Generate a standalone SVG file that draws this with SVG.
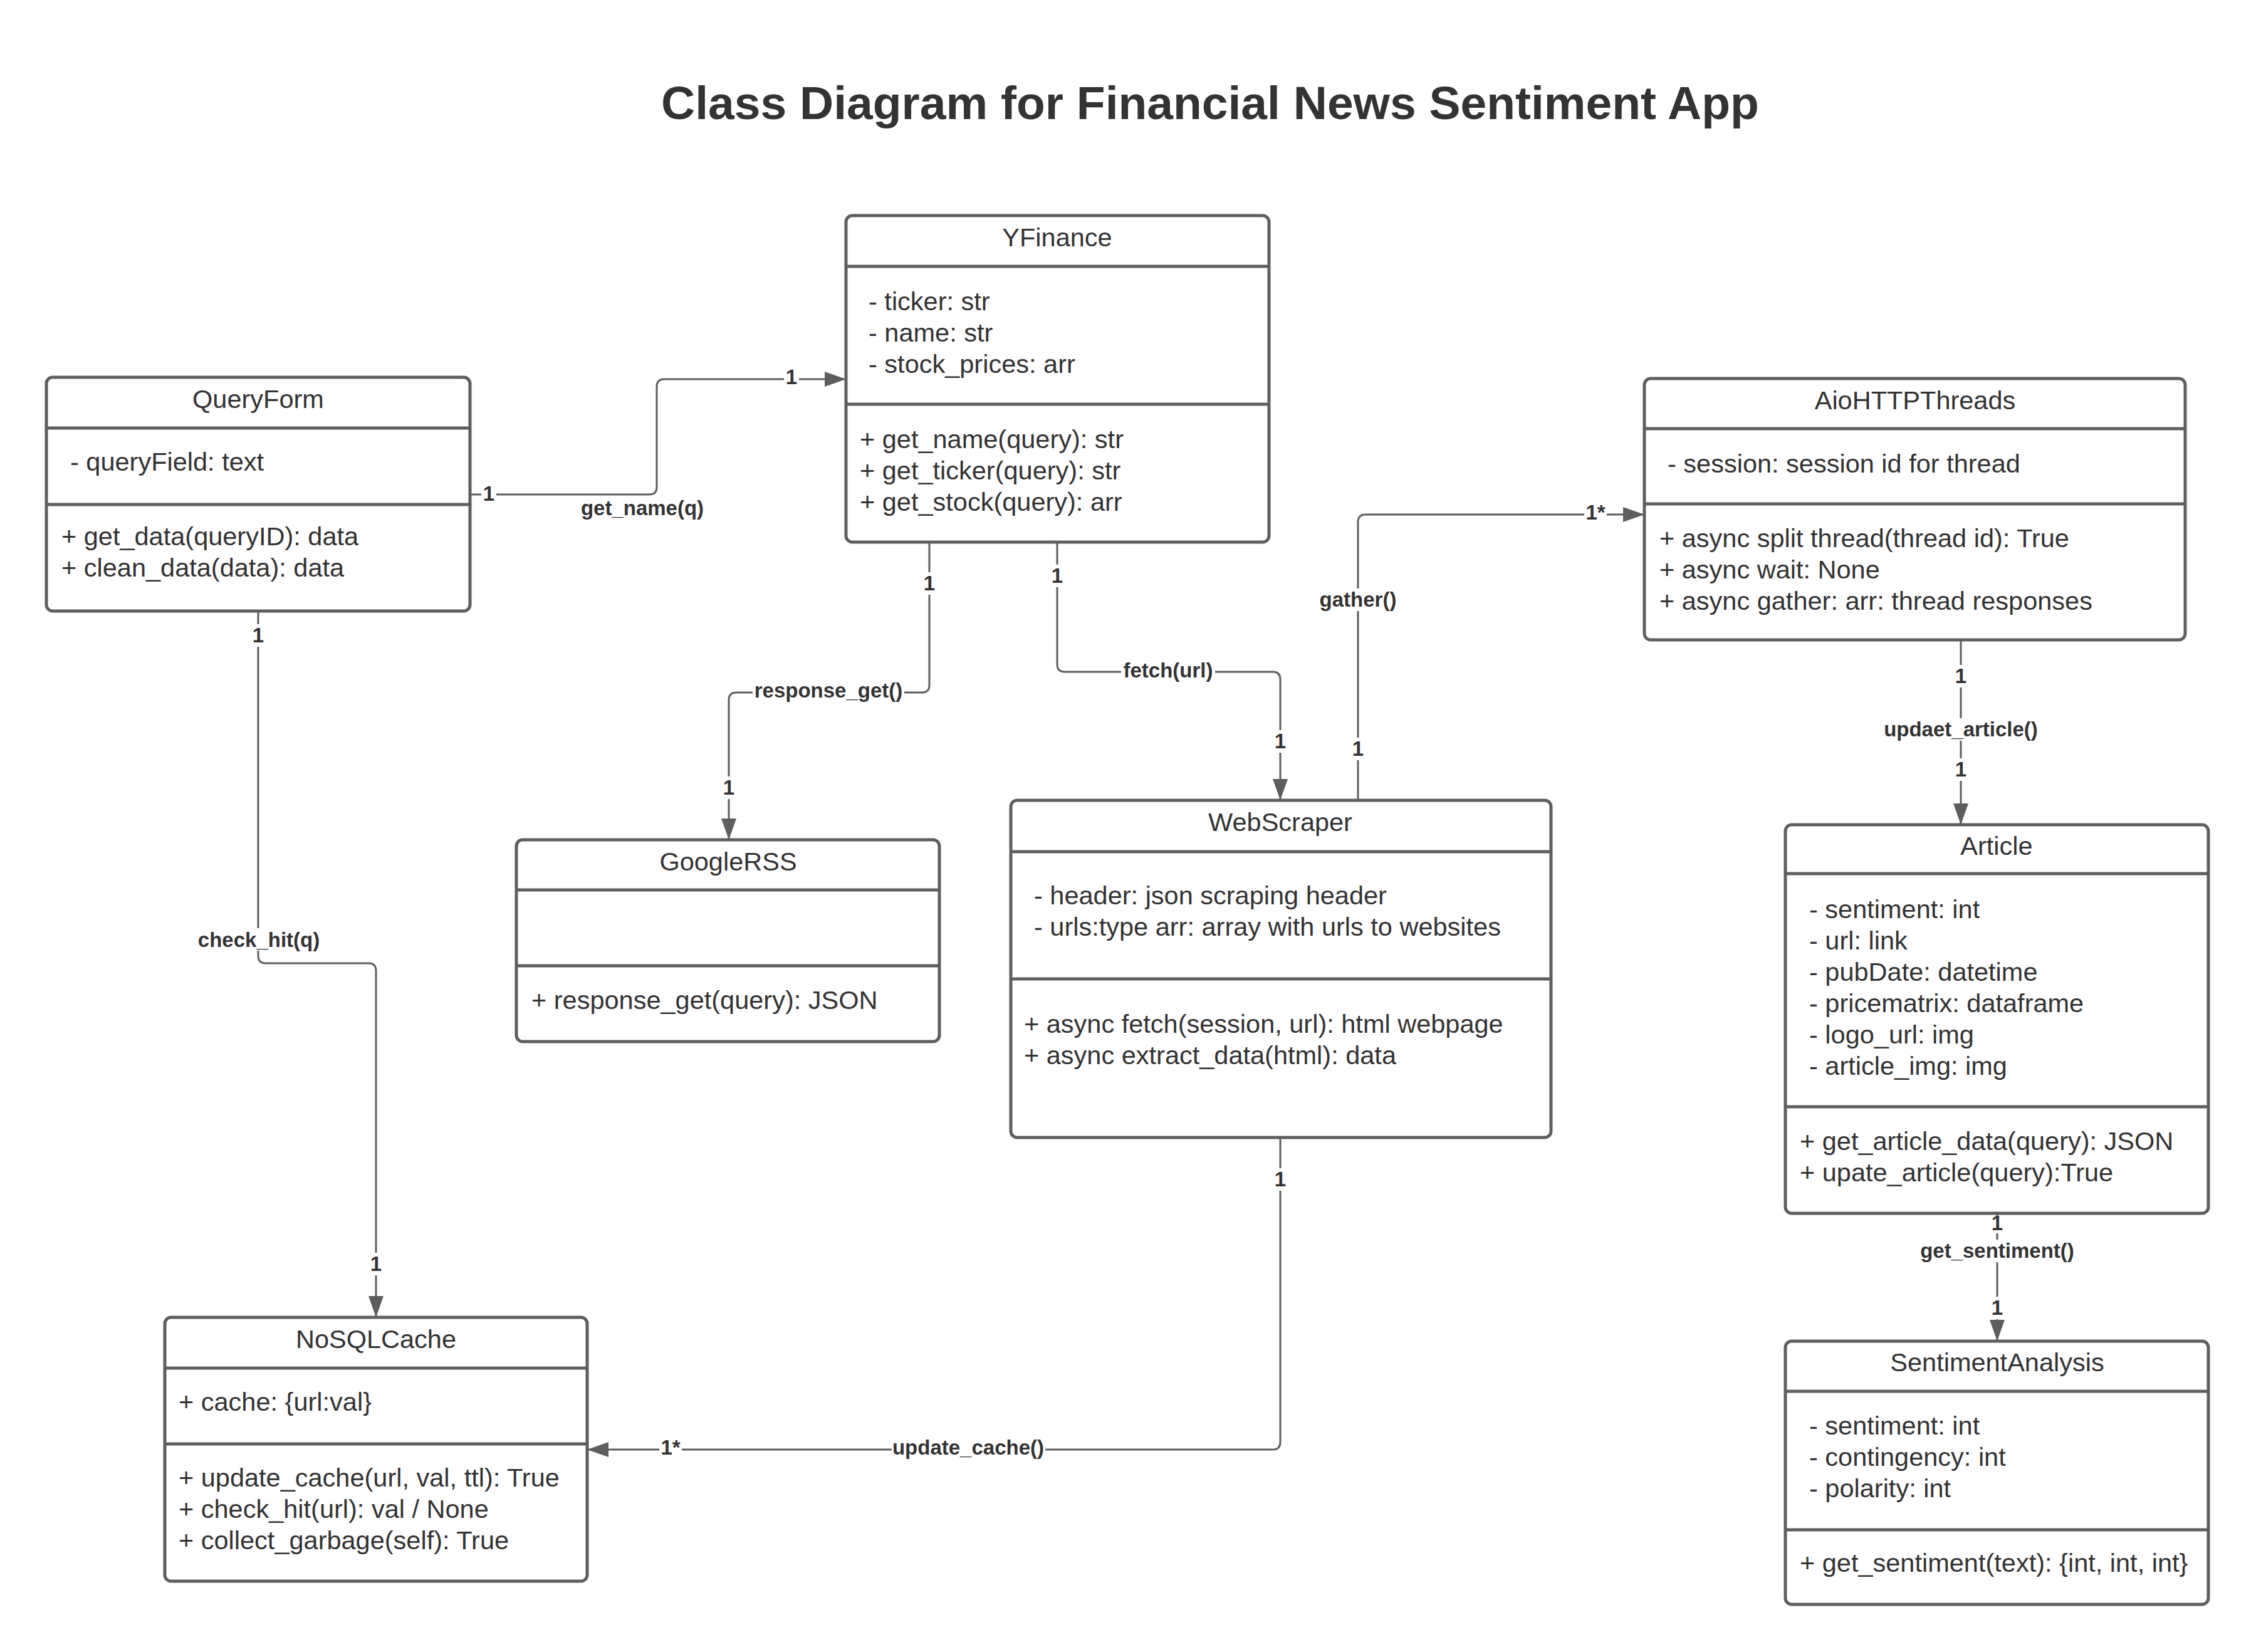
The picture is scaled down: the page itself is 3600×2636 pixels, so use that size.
<svg xmlns="http://www.w3.org/2000/svg" width="3600" height="2636" viewBox="0 0 3600 2636">
<style>
.box{fill:#fff;stroke:#5e5e5e;stroke-width:5}
.div{stroke:#5e5e5e;stroke-width:5}
.t{font-family:"Liberation Sans",Arial,sans-serif;font-size:41.5px;fill:#333}
.h{text-anchor:middle}
.c{fill:none;stroke:#5e5e5e;stroke-width:3}
.lb{font-family:"Liberation Sans",Arial,sans-serif;font-size:33px;font-weight:bold;fill:#333;text-anchor:middle}
.bg{fill:#fff}
.title{font-family:"Liberation Sans",Arial,sans-serif;font-size:75px;font-weight:bold;fill:#333;text-anchor:middle}
</style>
<defs>
<marker id="arr" markerUnits="userSpaceOnUse" markerWidth="36" markerHeight="26" viewBox="0 0 36 26" refX="34" refY="13" orient="auto">
<path d="M0,1 L34,13 L0,25 Z" fill="#5e5e5e"/>
</marker>
</defs>
<rect width="3600" height="2636" fill="#fff"/>
<text class="title" x="1931" y="190">Class Diagram for Financial News Sentiment App</text>

<g id="connectors">
<path class="c" d="M750 789 H1036 Q1048 789 1048 777 V617 Q1048 605 1060 605 H1350" marker-end="url(#arr)"/>
<path class="c" d="M1483 865 V1093 Q1483 1105 1471 1105 H1175 Q1163 1105 1163 1117 V1340" marker-end="url(#arr)"/>
<path class="c" d="M1687 865 V1060 Q1687 1072 1699 1072 H2031 Q2043 1072 2043 1084 V1277" marker-end="url(#arr)"/>
<path class="c" d="M2167 1277 V833 Q2167 821 2179 821 H2624" marker-end="url(#arr)"/>
<path class="c" d="M412 975 V1525 Q412 1537 424 1537 H588 Q600 1537 600 1549 V2102" marker-end="url(#arr)"/>
<path class="c" d="M2043 1815 V2301 Q2043 2313 2031 2313 H937" marker-end="url(#arr)"/>
<path class="c" d="M3129 1021 V1316" marker-end="url(#arr)"/>
<path class="c" d="M3187 1936 V2140" marker-end="url(#arr)"/>

<rect class="bg" x="768" y="771" width="24" height="36"/><text class="lb" x="780" y="799">1</text>
<text class="lb" x="1025" y="822">get_name(q)</text>
<rect class="bg" x="1251" y="585" width="24" height="36"/><text class="lb" x="1263" y="613">1</text>

<rect class="bg" x="1471" y="913" width="24" height="36"/><text class="lb" x="1483" y="942">1</text>
<rect class="bg" x="1201" y="1087" width="242" height="36"/><text class="lb" x="1322" y="1113">response_get()</text>
<rect class="bg" x="1151" y="1239" width="24" height="36"/><text class="lb" x="1163" y="1268">1</text>

<rect class="bg" x="1675" y="901" width="24" height="36"/><text class="lb" x="1687" y="930">1</text>
<rect class="bg" x="1789" y="1054" width="150" height="36"/><text class="lb" x="1864" y="1081">fetch(url)</text>
<rect class="bg" x="2031" y="1165" width="24" height="36"/><text class="lb" x="2043" y="1194">1</text>

<rect class="bg" x="2155" y="1177" width="24" height="36"/><text class="lb" x="2167" y="1206">1</text>
<rect class="bg" x="2102" y="939" width="130" height="36"/><text class="lb" x="2167" y="968">gather()</text>
<rect class="bg" x="2528" y="803" width="36" height="36"/><text class="lb" x="2546" y="829">1*</text>

<rect class="bg" x="400" y="996" width="24" height="36"/><text class="lb" x="412" y="1025">1</text>
<rect class="bg" x="313" y="1481" width="200" height="36"/><text class="lb" x="413" y="1511">check_hit(q)</text>
<rect class="bg" x="588" y="1999" width="24" height="36"/><text class="lb" x="600" y="2028">1</text>

<rect class="bg" x="2031" y="1864" width="24" height="36"/><text class="lb" x="2043" y="1893">1</text>
<rect class="bg" x="1423" y="2295" width="245" height="36"/><text class="lb" x="1545" y="2321">update_cache()</text>
<rect class="bg" x="1052" y="2295" width="36" height="36"/><text class="lb" x="1070" y="2321">1*</text>

<rect class="bg" x="3117" y="1061" width="24" height="36"/><text class="lb" x="3129" y="1090">1</text>
<rect class="bg" x="3003" y="1146" width="252" height="36"/><text class="lb" x="3129" y="1175">updaet_article()</text>
<rect class="bg" x="3117" y="1210" width="24" height="36"/><text class="lb" x="3129" y="1239">1</text>

<rect class="bg" x="3175" y="1940" width="24" height="28"/><text class="lb" x="3187" y="1963">1</text>
<rect class="bg" x="3061" y="1978" width="252" height="36"/><text class="lb" x="3187" y="2007">get_sentiment()</text>
<rect class="bg" x="3175" y="2069" width="24" height="36"/><text class="lb" x="3187" y="2098">1</text>
</g>

<g id="QueryForm">
<rect class="box" x="74" y="602" width="676" height="373" rx="10"/>
<line class="div" x1="74" y1="683" x2="750" y2="683"/>
<line class="div" x1="74" y1="805" x2="750" y2="805"/>
<text class="t h" x="412" y="651">QueryForm</text>
<text class="t" x="112" y="751">- queryField: text</text>
<text class="t" x="98" y="870">+ get_data(queryID): data</text>
<text class="t" x="98" y="920">+ clean_data(data): data</text>
</g>

<g id="YFinance">
<rect class="box" x="1350" y="344" width="675" height="521" rx="10"/>
<line class="div" x1="1350" y1="425" x2="2025" y2="425"/>
<line class="div" x1="1350" y1="645" x2="2025" y2="645"/>
<text class="t h" x="1687" y="393">YFinance</text>
<text class="t" x="1386" y="495">- ticker: str</text>
<text class="t" x="1386" y="545">- name: str</text>
<text class="t" x="1386" y="595">- stock_prices: arr</text>
<text class="t" x="1372" y="715">+ get_name(query): str</text>
<text class="t" x="1372" y="765">+ get_ticker(query): str</text>
<text class="t" x="1372" y="815">+ get_stock(query): arr</text>
</g>

<g id="AioHTTPThreads">
<rect class="box" x="2624" y="604" width="863" height="417" rx="10"/>
<line class="div" x1="2624" y1="684" x2="3487" y2="684"/>
<line class="div" x1="2624" y1="804" x2="3487" y2="804"/>
<text class="t h" x="3056" y="653">AioHTTPThreads</text>
<text class="t" x="2661" y="754">- session: session id for thread</text>
<text class="t" x="2648" y="873">+ async split thread(thread id): True</text>
<text class="t" x="2648" y="923">+ async wait: None</text>
<text class="t" x="2648" y="973">+ async gather: arr: thread responses</text>
</g>

<g id="GoogleRSS">
<rect class="box" x="824" y="1340" width="675" height="322" rx="10"/>
<line class="div" x1="824" y1="1420" x2="1499" y2="1420"/>
<line class="div" x1="824" y1="1541" x2="1499" y2="1541"/>
<text class="t h" x="1162" y="1389">GoogleRSS</text>
<text class="t" x="848" y="1610">+ response_get(query): JSON</text>
</g>

<g id="WebScraper">
<rect class="box" x="1613" y="1277" width="862" height="538" rx="10"/>
<line class="div" x1="1613" y1="1359" x2="2475" y2="1359"/>
<line class="div" x1="1613" y1="1562" x2="2475" y2="1562"/>
<text class="t h" x="2043" y="1326">WebScraper</text>
<text class="t" x="1650" y="1443">- header: json scraping header</text>
<text class="t" x="1650" y="1493">- urls:type arr: array with urls to websites</text>
<text class="t" x="1634" y="1648">+ async fetch(session, url): html webpage</text>
<text class="t" x="1634" y="1698">+ async extract_data(html): data</text>
</g>

<g id="Article">
<rect class="box" x="2849" y="1316" width="675" height="620" rx="10"/>
<line class="div" x1="2849" y1="1394" x2="3524" y2="1394"/>
<line class="div" x1="2849" y1="1766" x2="3524" y2="1766"/>
<text class="t h" x="3186" y="1364">Article</text>
<text class="t" x="2887" y="1465">- sentiment: int</text>
<text class="t" x="2887" y="1515">- url: link</text>
<text class="t" x="2887" y="1565">- pubDate: datetime</text>
<text class="t" x="2887" y="1615">- pricematrix: dataframe</text>
<text class="t" x="2887" y="1665">- logo_url: img</text>
<text class="t" x="2887" y="1715">- article_img: img</text>
<text class="t" x="2872" y="1835">+ get_article_data(query): JSON</text>
<text class="t" x="2872" y="1885">+ upate_article(query):True</text>
</g>

<g id="NoSQLCache">
<rect class="box" x="263" y="2102" width="674" height="421" rx="10"/>
<line class="div" x1="263" y1="2183" x2="937" y2="2183"/>
<line class="div" x1="263" y1="2304" x2="937" y2="2304"/>
<text class="t h" x="600" y="2151">NoSQLCache</text>
<text class="t" x="285" y="2251">+ cache: {url:val}</text>
<text class="t" x="285" y="2372">+ update_cache(url, val, ttl): True</text>
<text class="t" x="285" y="2422">+ check_hit(url): val / None</text>
<text class="t" x="285" y="2472">+ collect_garbage(self): True</text>
</g>

<g id="SentimentAnalysis">
<rect class="box" x="2849" y="2140" width="675" height="420" rx="10"/>
<line class="div" x1="2849" y1="2220" x2="3524" y2="2220"/>
<line class="div" x1="2849" y1="2441" x2="3524" y2="2441"/>
<text class="t h" x="3187" y="2188">SentimentAnalysis</text>
<text class="t" x="2887" y="2289">- sentiment: int</text>
<text class="t" x="2887" y="2339">- contingency: int</text>
<text class="t" x="2887" y="2389">- polarity: int</text>
<text class="t" x="2872" y="2508">+ get_sentiment(text): {int, int, int}</text>
</g>
</svg>
